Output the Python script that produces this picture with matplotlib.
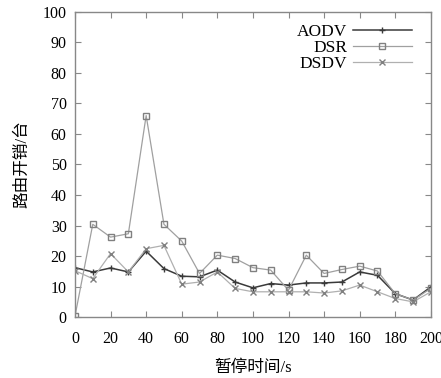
import numpy as np
import matplotlib.pyplot as plt

plt.rcParams['font.family'] = ['Liberation Serif', 'Noto Sans CJK SC']

pause = [0, 10, 20, 30, 40, 50, 60, 70, 80, 90, 100,
         110, 120, 130, 140, 150, 160, 170, 180, 190, 200]
aodv = [16.2, 14.8, 16.1, 14.8, 21.6, 15.9, 13.4, 13.2, 15.4, 11.5, 9.6,
        11.0, 10.5, 11.2, 11.2, 11.5, 14.8, 13.7, 7.7, 5.6, 9.9]
dsr = [0.3, 30.4, 26.2, 27.3, 66.0, 30.4, 24.9, 14.3, 20.3, 19.2, 16.2,
       15.4, 8.8, 20.3, 14.3, 15.6, 16.7, 15.1, 7.7, 5.6, 9.4]
dsdv = [15.2, 12.6, 20.8, 14.8, 22.4, 23.5, 10.8, 11.5, 14.8, 9.4, 8.3,
        8.3, 8.3, 8.3, 7.9, 8.6, 10.5, 8.3, 6.1, 5.0, 8.3]

fig = plt.figure(figsize=(4.41, 3.78), dpi=100)
ax = fig.add_axes([0.17, 0.161, 0.807, 0.808])

ax.plot(pause, aodv, color='#3a3a3a', lw=1.1, marker='+', ms=5, mew=1.0, label='AODV')
ax.plot(pause, dsr, color='#a0a0a0', lw=0.9, marker='s', ms=4.5, mfc='none', mec='#808080', mew=1.0, label='DSR')
ax.plot(pause, dsdv, color='#b0b0b0', lw=0.9, marker='x', ms=5, mew=1.0, mec='#808080', label='DSDV')

ax.set_xlim(0, 200)
ax.set_ylim(0, 100)
ax.set_xticks(np.arange(0, 201, 20))
ax.set_yticks(np.arange(0, 101, 10))
ax.tick_params(direction='in', top=True, right=True, length=4, width=0.8,
               color='#888888', labelsize=11.5)
ax.tick_params(axis='x', pad=10)
ax.tick_params(axis='y', pad=6)
for s in ax.spines.values():
    s.set_color('#888888')
    s.set_linewidth(1.0)

ax.set_xlabel('暂停时间/s', fontsize=12, labelpad=9)
ax.set_ylabel('路由开销/台', fontsize=12, labelpad=9)

leg = ax.legend(loc='upper right', bbox_to_anchor=(0.975, 0.995), frameon=False,
                markerfirst=False, fontsize=12.5, handlelength=3.4,
                labelspacing=0.0, handletextpad=0.3, borderaxespad=0.2)
for t in leg.get_texts():
    t.set_ha('right')

fig.savefig('out.png', dpi=100)
